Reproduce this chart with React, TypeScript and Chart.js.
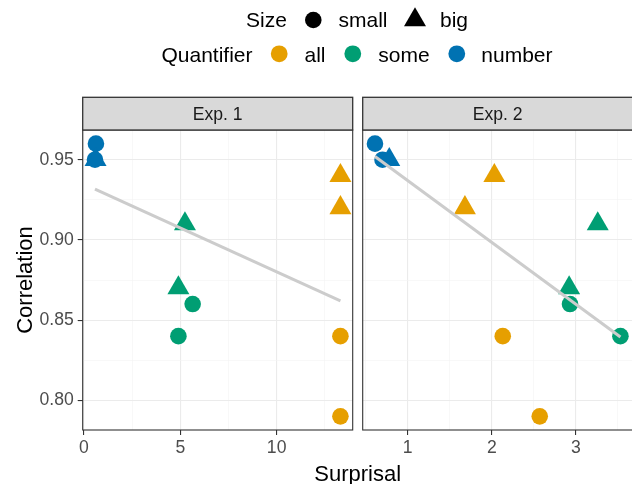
import React, { useEffect, useRef } from 'react';
import { Chart, registerables } from 'chart.js';

Chart.register(...registerables);

const FONT = "'Liberation Sans', Arial, Helvetica, sans-serif";

// ---- categories ----
const PANEL_LABELS = ['Exp. 1', 'Exp. 2'];
const QUANTIFIERS = ['all', 'some', 'number'];
const QUANT_COLORS = ['#E69F00', '#009E73', '#0072B2'];
const SIZES = ['small', 'big'];

// ---- Exp. 1 values (Surprisal x, Correlation y) ----
const exp1AllSmallX = [13.31, 13.31];
const exp1AllSmallY = [0.84, 0.79];
const exp1AllBigX = [13.31, 13.31];
const exp1AllBigY = [0.94, 0.92];
const exp1SomeSmallX = [4.9, 5.64];
const exp1SomeSmallY = [0.84, 0.86];
const exp1SomeBigX = [4.9, 5.24];
const exp1SomeBigY = [0.87, 0.91];
const exp1NumberSmallX = [0.62, 0.57];
const exp1NumberSmallY = [0.96, 0.95];
const exp1NumberBigX = [0.6];
const exp1NumberBigY = [0.95];
const exp1FitX = [0.57, 13.31];
const exp1FitY = [0.9317, 0.862];

// ---- Exp. 2 values ----
const exp2AllSmallX = [2.13, 2.57];
const exp2AllSmallY = [0.84, 0.79];
const exp2AllBigX = [1.68, 2.03];
const exp2AllBigY = [0.92, 0.94];
const exp2SomeSmallX = [2.93, 3.53];
const exp2SomeSmallY = [0.86, 0.84];
const exp2SomeBigX = [2.92, 3.26];
const exp2SomeBigY = [0.87, 0.91];
const exp2NumberSmallX = [0.61, 0.7];
const exp2NumberSmallY = [0.96, 0.95];
const exp2NumberBigX = [0.78];
const exp2NumberBigY = [0.95];
const exp2FitX = [0.61, 3.53];
const exp2FitY = [0.952, 0.8395];

// ---- tick labels ----
const Y_MAJOR = [0.8, 0.85, 0.9, 0.95];
const Y_LABELS = ['0.80', '0.85', '0.90', '0.95'];
const Y_MINOR = [0.825, 0.875, 0.925];
const EXP1_X_MAJOR = [0, 5, 10];
const EXP1_X_LABELS = ['0', '5', '10'];
const EXP1_X_MINOR = [2.5, 7.5, 12.5];
const EXP2_X_MAJOR = [1, 2, 3];
const EXP2_X_LABELS = ['1', '2', '3'];
const EXP2_X_MINOR = [0.5, 1.5, 2.5, 3.5];

type Series = { q: number; size: string; x: number[]; y: number[] };

const PANEL_SERIES: Series[][] = [
  [
    { q: 0, size: 'small', x: exp1AllSmallX, y: exp1AllSmallY },
    { q: 1, size: 'small', x: exp1SomeSmallX, y: exp1SomeSmallY },
    { q: 2, size: 'small', x: exp1NumberSmallX, y: exp1NumberSmallY },
    { q: 0, size: 'big', x: exp1AllBigX, y: exp1AllBigY },
    { q: 1, size: 'big', x: exp1SomeBigX, y: exp1SomeBigY },
    { q: 2, size: 'big', x: exp1NumberBigX, y: exp1NumberBigY },
  ],
  [
    { q: 0, size: 'small', x: exp2AllSmallX, y: exp2AllSmallY },
    { q: 1, size: 'small', x: exp2SomeSmallX, y: exp2SomeSmallY },
    { q: 2, size: 'small', x: exp2NumberSmallX, y: exp2NumberSmallY },
    { q: 0, size: 'big', x: exp2AllBigX, y: exp2AllBigY },
    { q: 1, size: 'big', x: exp2SomeBigX, y: exp2SomeBigY },
    { q: 2, size: 'big', x: exp2NumberBigX, y: exp2NumberBigY },
  ],
];
const PANEL_FITS = [
  { x: exp1FitX, y: exp1FitY },
  { x: exp2FitX, y: exp2FitY },
];
const PANEL_X_TICKS = [
  { major: EXP1_X_MAJOR, labels: EXP1_X_LABELS, minor: EXP1_X_MINOR },
  { major: EXP2_X_MAJOR, labels: EXP2_X_LABELS, minor: EXP2_X_MINOR },
];

// ---- layout (pixels) ----
const PANEL_TOP = 130;
const PANEL_BOTTOM = 430;
const STRIP_TOP = 97.3;
const H = 484;
const PANEL_GEOM = [
  { canvasLeft: 0, canvasWidth: 362, areaLeft: 82.7, areaRight: 352.7, yTicks: true },
  { canvasLeft: 358, canvasWidth: 282, areaLeft: 4.7, areaRight: 274.7, yTicks: false },
];

const CIRCLE_R = 8.3;
const TRIANGLE_R = 12.7;
const MAJOR_GRID = '#EBEBEB';
const MINOR_GRID = '#F3F3F3';
const DARK = '#333333';

function expand(vals: number[]) {
  const mn = Math.min(...vals);
  const mx = Math.max(...vals);
  const r = mx - mn;
  return [mn - 0.05 * r, mx + 0.05 * r];
}

const near = (a: number, b: number) => Math.abs(a - b) < 1e-6;

function Panel({ idx }: { idx: number }) {
  const ref = useRef<HTMLCanvasElement>(null);
  useEffect(() => {
    const g = PANEL_GEOM[idx];
    const series = PANEL_SERIES[idx];
    const fit = PANEL_FITS[idx];
    const xt = PANEL_X_TICKS[idx];
    const allX = series.flatMap((s) => s.x);
    const allY = PANEL_SERIES.flat().flatMap((s) => s.y);
    const [xMin, xMax] = expand(allX);
    const [yMin, yMax] = expand(allY);
    const xAll = [...xt.major, ...xt.minor].sort((a, b) => a - b);
    const yAll = [...Y_MAJOR, ...Y_MINOR].sort((a, b) => a - b);
    const isMinorX = (v: number) => xt.minor.some((m) => near(m, v));
    const isMinorY = (v: number) => Y_MINOR.some((m) => near(m, v));

    const pointSets = series.map((s) => ({
      label: QUANTIFIERS[s.q] + ' ' + s.size,
      data: s.x.map((xv, i) => ({ x: xv, y: s.y[i] })),
      pointStyle: s.size === 'big' ? 'triangle' : 'circle',
      pointRadius: s.size === 'big' ? TRIANGLE_R : CIRCLE_R,
      pointHoverRadius: s.size === 'big' ? TRIANGLE_R : CIRCLE_R,
      pointBackgroundColor: QUANT_COLORS[s.q],
      pointBorderWidth: 0,
      showLine: false,
    }));
    const big = pointSets.filter((d) => d.pointStyle === 'triangle');
    const small = pointSets.filter((d) => d.pointStyle === 'circle');

    const fitSet = {
      label: 'fit',
      data: fit.x.map((xv, i) => ({ x: xv, y: fit.y[i] })),
      showLine: true,
      borderColor: '#CCCCCC',
      borderWidth: 3,
      pointRadius: 0,
      pointHoverRadius: 0,
      fill: false,
    };

    const framePlugin = {
      id: 'frame' + idx,
      afterDraw(chart: any) {
        const { ctx, chartArea } = chart;
        const { left, right, top, bottom } = chartArea;
        ctx.save();
        // panel border
        ctx.strokeStyle = DARK;
        ctx.lineWidth = 1.1;
        ctx.strokeRect(left, top, right - left, bottom - top);
        // strip
        ctx.fillStyle = '#D9D9D9';
        ctx.fillRect(left, STRIP_TOP, right - left, top - STRIP_TOP);
        ctx.strokeStyle = DARK;
        ctx.lineWidth = 1.3;
        ctx.strokeRect(left, STRIP_TOP, right - left, top - STRIP_TOP);
        ctx.fillStyle = '#1A1A1A';
        ctx.font = `17.6px ${FONT}`;
        ctx.textAlign = 'center';
        ctx.textBaseline = 'alphabetic';
        ctx.fillText(PANEL_LABELS[idx], (left + right) / 2, 120.3);
        ctx.restore();
      },
    };

    const chart = new Chart(ref.current as HTMLCanvasElement, {
      type: 'scatter',
      data: { datasets: [fitSet, ...big, ...small] as any },
      options: {
        animation: false,
        responsive: false,
        maintainAspectRatio: false,
        events: [],
        layout: {
          autoPadding: false,
          padding: { top: PANEL_TOP, bottom: 0, left: 0, right: g.canvasWidth - g.areaRight },
        },
        plugins: { legend: { display: false }, tooltip: { enabled: false }, title: { display: false } },
        scales: {
          x: {
            type: 'linear',
            min: xMin,
            max: xMax,
            afterBuildTicks: (s: any) => {
              s.ticks = xAll.map((v) => ({ value: v }));
            },
            afterFit: (s: any) => {
              s.height = H - PANEL_BOTTOM;
            },
            ticks: {
              autoSkip: false,
              maxRotation: 0,
              minRotation: 0,
              padding: 2.5,
              color: '#4D4D4D',
              font: { family: FONT, size: 17.6 },
              callback: (v: any) => {
                const k = xt.major.findIndex((m) => near(m, Number(v)));
                return k >= 0 ? xt.labels[k] : '';
              },
            },
            grid: {
              color: (c: any) => (c.tick && isMinorX(c.tick.value) ? MINOR_GRID : MAJOR_GRID),
              lineWidth: (c: any) => (c.tick && isMinorX(c.tick.value) ? 0.6 : 1.1),
              tickColor: (c: any) => (c.tick && isMinorX(c.tick.value) ? 'rgba(0,0,0,0)' : DARK),
              tickWidth: 1.1,
              tickLength: 5,
              drawTicks: true,
            },
            border: { display: false },
          },
          y: {
            type: 'linear',
            min: yMin,
            max: yMax,
            afterBuildTicks: (s: any) => {
              s.ticks = yAll.map((v) => ({ value: v }));
            },
            afterFit: (s: any) => {
              s.width = g.areaLeft;
            },
            ticks: {
              display: g.yTicks,
              autoSkip: false,
              padding: 4,
              color: '#4D4D4D',
              font: { family: FONT, size: 17.6 },
              callback: (v: any) => {
                const k = Y_MAJOR.findIndex((m) => near(m, Number(v)));
                return k >= 0 ? Y_LABELS[k] : '';
              },
            },
            grid: {
              color: (c: any) => (c.tick && isMinorY(c.tick.value) ? MINOR_GRID : MAJOR_GRID),
              lineWidth: (c: any) => (c.tick && isMinorY(c.tick.value) ? 0.6 : 1.1),
              tickColor: (c: any) => (c.tick && isMinorY(c.tick.value) ? 'rgba(0,0,0,0)' : DARK),
              tickWidth: 1.1,
              tickLength: g.yTicks ? 5 : 0,
              drawTicks: g.yTicks,
            },
            border: { display: false },
          },
        },
      } as any,
      plugins: [framePlugin],
    });
    return () => chart.destroy();
  }, [idx]);

  const g = PANEL_GEOM[idx];
  return (
    <canvas
      ref={ref}
      width={g.canvasWidth}
      height={H}
      style={{ position: 'absolute', left: g.canvasLeft, top: 0, width: g.canvasWidth, height: H }}
    />
  );
}

function Overlay() {
  const txt = { fontFamily: FONT, fill: '#000000' } as any;
  return (
    <svg
      width={632}
      height={484}
      style={{ position: 'absolute', left: 0, top: 0, pointerEvents: 'none' }}
    >
      {/* legend row 1: Size */}
      <text x={246} y={27} fontSize={21} style={txt}>Size</text>
      <circle cx={313.3} cy={20} r={8.3} fill="#000000" />
      <text x={338.5} y={27} fontSize={21} style={txt}>{SIZES[0]}</text>
      <polygon points="415,7.3 426,26.35 404,26.35" fill="#000000" />
      <text x={440} y={27} fontSize={21} style={txt}>{SIZES[1]}</text>
      {/* legend row 2: Quantifier */}
      <text x={161.5} y={61.5} fontSize={21} style={txt}>Quantifier</text>
      <circle cx={279.2} cy={53.8} r={8.4} fill={QUANT_COLORS[0]} />
      <text x={304.5} y={61.5} fontSize={21} style={txt}>{QUANTIFIERS[0]}</text>
      <circle cx={352.8} cy={53.8} r={8.4} fill={QUANT_COLORS[1]} />
      <text x={378.3} y={61.5} fontSize={21} style={txt}>{QUANTIFIERS[1]}</text>
      <circle cx={456.8} cy={53.8} r={8.4} fill={QUANT_COLORS[2]} />
      <text x={481.3} y={61.5} fontSize={21} style={txt}>{QUANTIFIERS[2]}</text>
      {/* axis titles */}
      <text x={357.7} y={480.5} fontSize={22} textAnchor="middle" style={txt}>Surprisal</text>
      <text
        x={0}
        y={0}
        fontSize={22}
        textAnchor="middle"
        transform="translate(31.5,280) rotate(-90)"
        style={txt}
      >
        Correlation
      </text>
    </svg>
  );
}

export default function App() {
  return (
    <div
      style={{
        position: 'absolute',
        left: 0,
        top: 0,
        width: 632,
        height: 484,
        overflow: 'hidden',
        background: '#FFFFFF',
      }}
    >
      <Panel idx={0} />
      <Panel idx={1} />
      <Overlay />
    </div>
  );
}
